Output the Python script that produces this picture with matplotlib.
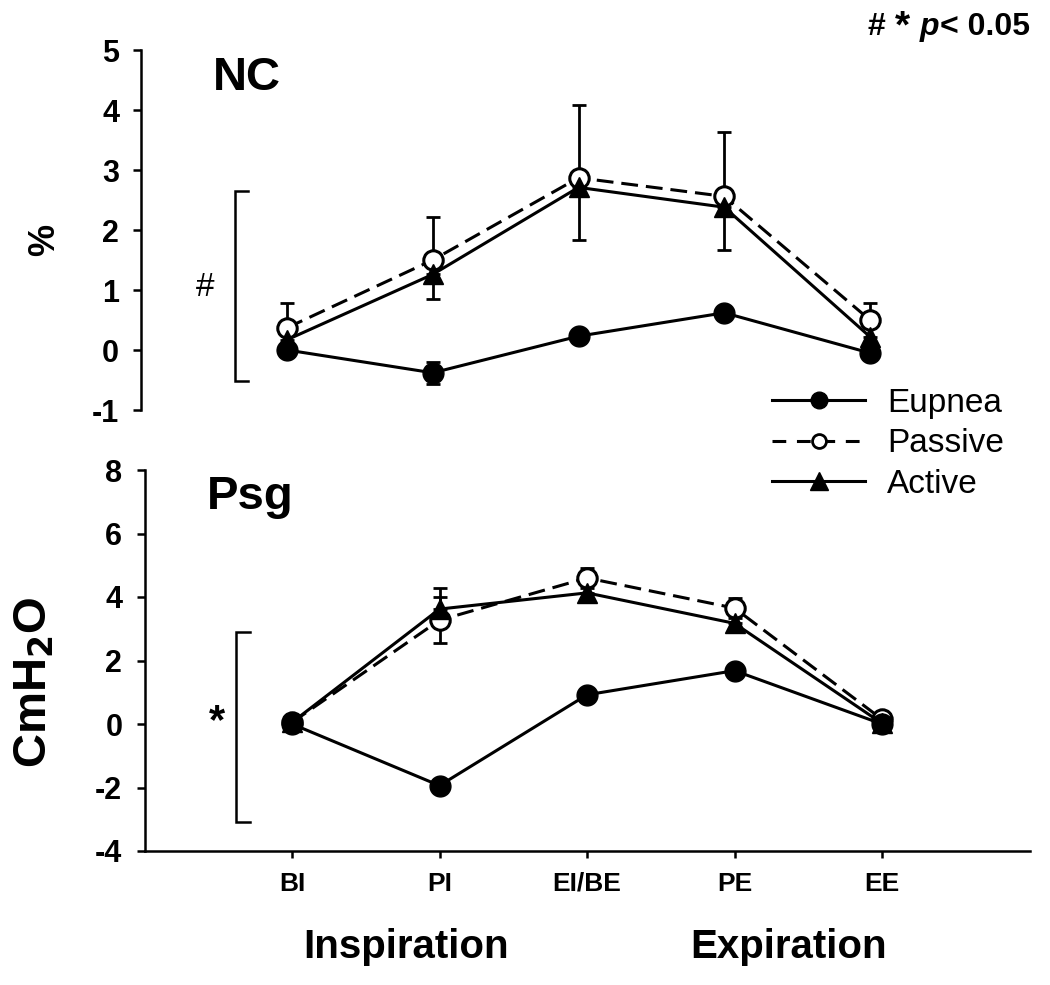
import matplotlib
matplotlib.use("Agg")
import matplotlib.pyplot as plt
from matplotlib.lines import Line2D
import numpy as np

plt.rcParams['font.family'] = ['Liberation Sans', 'DejaVu Sans']

# ---------------- data ----------------
phases = ["BI", "PI", "EI/BE", "PE", "EE"]
x_pos = [1, 2, 3, 4, 5]

# NC (%)
nc_eupnea = [0.0, -0.38, 0.23, 0.62, -0.05]
nc_eupnea_err = [0.05, 0.18, 0.08, 0.08, 0.05]
nc_passive = [0.37, 1.50, 2.87, 2.56, 0.50]
nc_passive_up = [0.41, 0.71, 1.22, 1.07, 0.28]
nc_active = [0.17, 1.26, 2.71, 2.38, 0.22]
nc_active_lo = [0.10, 0.41, 0.87, 0.72, 0.10]

# Psg (CmH2O)
psg_eupnea = [0.0, -1.94, 0.92, 1.68, 0.0]
psg_eupnea_err = [0.08, 0.10, 0.10, 0.10, 0.05]
psg_passive = [0.05, 3.27, 4.60, 3.65, 0.15]
psg_passive_err = [0.05, 0.73, 0.32, 0.32, 0.08]
psg_active = [0.05, 3.62, 4.13, 3.17, 0.02]
psg_active_up = [0.05, 0.65, 0.45, 0.32, 0.05]

nc_yticks = [-1, 0, 1, 2, 3, 4, 5]
psg_yticks = [-4, -2, 0, 2, 4, 6, 8]

# significance brackets: (x, x_tick_end, y_bottom, y_top, symbol_x, symbol_y, symbol)
nc_bracket = (0.643, 0.733, -0.52, 2.65, 0.44, 1.05, "#")
psg_bracket = (0.62, 0.715, -3.08, 2.89, 0.49, 0.05, "*")

W, H = 1050, 985
fig = plt.figure(figsize=(W / 100, H / 100), dpi=100)

LW = 2.2
MS = 15
dash = (5.5, 2.6)


def fx(px):
    return px / W


def fy(py):
    return 1 - py / H


ax1 = fig.add_axes([fx(141.25), fy(410), 874.5 / W, 360 / H])
ax2 = fig.add_axes([fx(144.5), fy(851), 885 / W, 381 / H])

ekw = dict(elinewidth=2.0, capsize=5, capthick=2.0, ecolor='black')

# ---- top panel ----
ax1.errorbar(x_pos, nc_eupnea, yerr=nc_eupnea_err, fmt='none', zorder=2, **ekw)
ax1.errorbar(x_pos, nc_passive, yerr=[np.zeros(5), nc_passive_up], fmt='none', zorder=2, **ekw)
ax1.errorbar(x_pos, nc_active, yerr=[nc_active_lo, np.zeros(5)], fmt='none', zorder=2, **ekw)
ax1.plot(x_pos, nc_eupnea, '-o', color='black', lw=LW, ms=MS, mfc='black', zorder=4)
ax1.plot(x_pos, nc_passive, '--o', color='black', lw=LW, ms=MS - 1, mfc='white',
         mew=2.2, dashes=dash, zorder=3)
ax1.plot(x_pos, nc_active, '-^', color='black', lw=LW, ms=MS, mfc='black', zorder=5)

# ---- bottom panel ----
ax2.errorbar(x_pos, psg_eupnea, yerr=psg_eupnea_err, fmt='none', zorder=2, **ekw)
ax2.errorbar(x_pos, psg_passive, yerr=psg_passive_err, fmt='none', zorder=2, **ekw)
ax2.errorbar(x_pos, psg_active, yerr=[np.zeros(5), psg_active_up], fmt='none', zorder=2, **ekw)
ax2.plot(x_pos, psg_eupnea, '-o', color='black', lw=LW, ms=MS, mfc='black', zorder=4)
ax2.plot(x_pos, psg_passive, '--o', color='black', lw=LW, ms=MS - 1, mfc='white',
         mew=2.2, dashes=dash, zorder=3)
ax2.plot(x_pos, psg_active, '-^', color='black', lw=LW, ms=MS, mfc='black', zorder=5)

for ax, yt, lim in [(ax1, nc_yticks, (-1, 5)), (ax2, psg_yticks, (-4, 8))]:
    ax.set_xlim(0, 6)
    ax.set_ylim(*lim)
    ax.set_yticks(yt)
    ax.set_yticklabels([str(v) for v in yt], fontsize=22, fontweight='bold')
    ax.tick_params(axis='y', direction='out', length=6, width=1.8, pad=10)
    ax.spines['top'].set_visible(False)
    ax.spines['right'].set_visible(False)
    ax.spines['left'].set_linewidth(1.8)
    ax.patch.set_alpha(0)

ax1.spines['bottom'].set_visible(False)
ax1.set_xticks([])
ax2.spines['bottom'].set_linewidth(1.8)
ax2.set_xticks(x_pos)
ax2.set_xticklabels(phases, fontsize=19, fontweight='bold')
ax2.tick_params(axis='x', direction='out', length=5, width=1.8, pad=10)

# brackets
for ax, br in [(ax1, nc_bracket), (ax2, psg_bracket)]:
    x0, x1, yb, yt_, sx, sy, sym = br
    ax.plot([x1, x0, x0, x1], [yb, yb, yt_, yt_], color='black', lw=1.8,
            solid_joinstyle='miter', clip_on=False)
    ax.text(sx, sy, sym, fontsize=24 if sym == '#' else 30, ha='center', va='center',
            fontweight='normal' if sym == '#' else 'bold')

# panel titles
fig.text(fx(247), fy(78), "NC", fontsize=34, fontweight='bold', ha='center', va='center')
fig.text(fx(250), fy(497), "Psg", fontsize=34, fontweight='bold', ha='center', va='center')

# y labels
fig.text(fx(45), fy(240), "%", fontsize=26, fontweight='bold', rotation=90,
         ha='center', va='center')
fig.text(fx(35), fy(682), r"CmH$_\mathbf{2}$O", fontsize=34, fontweight='bold', rotation=90,
         ha='center', va='center')

# phase labels
fig.text(fx(406), fy(947), "Inspiration", fontsize=29, fontweight='bold', ha='center', va='center')
fig.text(fx(789), fy(947), "Expiration", fontsize=29, fontweight='bold', ha='center', va='center')

# significance note
fig.text(fx(868), fy(27), "#", fontsize=23, fontweight='bold', ha='left', va='center')
fig.text(fx(895), fy(27), "*", fontsize=28, fontweight='bold', ha='left', va='center')
fig.text(fx(920), fy(27), "p", fontsize=23, fontweight='bold', style='italic', ha='left', va='center')
fig.text(fx(940), fy(27), "< 0.05", fontsize=23, fontweight='bold', ha='left', va='center')

# legend
handles = [
    Line2D([], [], color='black', lw=LW, marker='o', ms=12, mfc='black'),
    Line2D([], [], color='black', lw=LW, marker='o', ms=10, mfc='white', mew=2, ls='--',
           dashes=(4.5, 3.5)),
    Line2D([], [], color='black', lw=LW, marker='^', ms=13, mfc='black'),
]
fig.legend(handles, ["Eupnea", "Passive", "Active"], loc='upper left',
           bbox_to_anchor=(fx(772), fy(388)), frameon=False, fontsize=24,
           handlelength=2.8, handletextpad=0.65, labelspacing=0.28,
           borderpad=0, borderaxespad=0)

fig.savefig("out.png", dpi=100)
